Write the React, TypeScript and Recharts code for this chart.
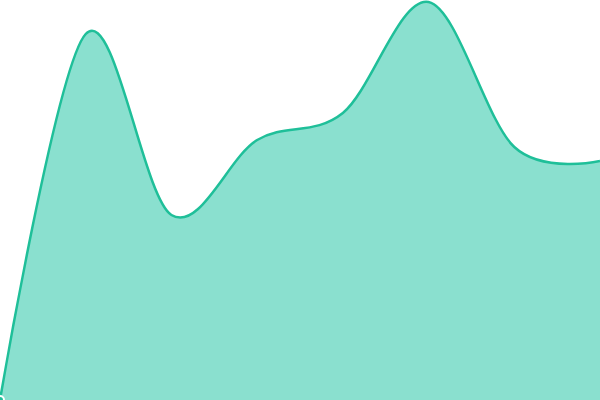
import { AreaChart, Area, XAxis, YAxis } from "recharts";

const labels = ["A", "B", "C", "D", "E", "F", "G", "H"];
const values = [0, 366, 185, 260, 287, 398, 253, 239];

const data = labels.map((name, i) => ({ name, value: values[i] }));

// cardinal spline (tension 0), same maths as d3's curveCardinal
class Cardinal {
  ctx: any;
  k = 1 / 6;
  line = NaN;
  pt = 0;
  x0 = NaN; x1 = NaN; x2 = NaN;
  y0 = NaN; y1 = NaN; y2 = NaN;
  constructor(ctx: any) {
    this.ctx = ctx;
  }
  areaStart() { this.line = 0; }
  areaEnd() { this.line = NaN; }
  lineStart() {
    this.x0 = this.x1 = this.x2 = this.y0 = this.y1 = this.y2 = NaN;
    this.pt = 0;
  }
  lineEnd() {
    if (this.pt === 2) this.ctx.lineTo(this.x2, this.y2);
    else if (this.pt === 3) this.seg(this.x1, this.y1);
    if (this.line || (this.line !== 0 && this.pt === 1)) this.ctx.closePath();
    this.line = 1 - this.line;
  }
  seg(x: number, y: number) {
    this.ctx.bezierCurveTo(
      this.x1 + this.k * (this.x2 - this.x0),
      this.y1 + this.k * (this.y2 - this.y0),
      this.x2 + this.k * (this.x1 - x),
      this.y2 + this.k * (this.y1 - y),
      this.x2,
      this.y2
    );
  }
  point(x: number, y: number) {
    x = +x;
    y = +y;
    if (this.pt === 0) {
      this.pt = 1;
      this.line ? this.ctx.lineTo(x, y) : this.ctx.moveTo(x, y);
    } else if (this.pt === 1) {
      this.pt = 2;
      this.x1 = x;
      this.y1 = y;
    } else {
      this.pt = 3;
      this.seg(x, y);
    }
    this.x0 = this.x1; this.x1 = this.x2; this.x2 = x;
    this.y0 = this.y1; this.y1 = this.y2; this.y2 = y;
  }
}

const cardinal = (ctx: any) => new Cardinal(ctx);

export default function App() {
  return (
    <div style={{ position: "fixed", top: 0, left: 0, width: 600, height: 400, background: "#fff" }}>
      <AreaChart width={600} height={400} data={data} margin={{ top: 0, right: 0, bottom: 0, left: 0 }}>
        <XAxis dataKey="name" hide />
        <YAxis hide domain={[0, 400]} />
        <Area
          type={cardinal as any}
          dataKey="value"
          stroke="#1fbf99"
          strokeWidth={2.5}
          fill="#8ae0cf"
          fillOpacity={1}
          isAnimationActive={false}
        />
      </AreaChart>
    </div>
  );
}
